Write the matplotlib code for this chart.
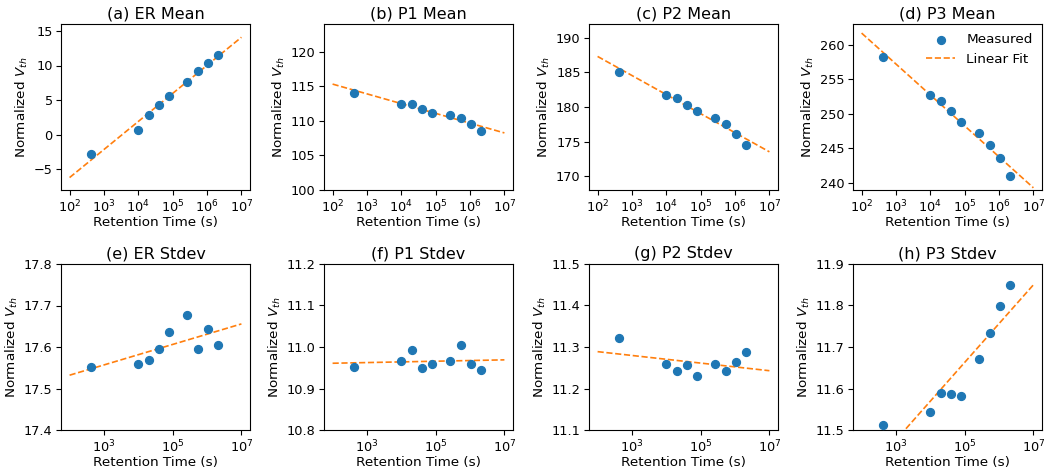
import matplotlib
matplotlib.use("Agg")
import matplotlib.pyplot as plt
import numpy as np

# retention times (s), same for every panel
retention_time = [430, 1.0e4, 2.0e4, 4.0e4, 7.8e4, 2.6e5, 5.4e5, 1.05e6, 2.1e6]

# mean values
er_mean = [-2.8, 0.72, 2.9, 4.3, 5.6, 7.55, 9.2, 10.4, 11.45]
p1_mean = [114.07, 112.48, 112.48, 111.66, 111.18, 110.8, 110.41, 109.6, 108.53]
p2_mean = [185.1, 181.7, 181.37, 180.3, 179.45, 178.35, 177.48, 176.09, 174.46]
p3_mean = [258.17, 252.67, 251.86, 250.36, 248.87, 247.23, 245.54, 243.57, 240.96]

# stdev values
er_std = [17.551, 17.558, 17.568, 17.594, 17.637, 17.677, 17.594, 17.644, 17.606]
p1_std = [10.951, 10.966, 10.992, 10.949, 10.958, 10.966, 11.004, 10.959, 10.945]
p2_std = [11.321, 11.260, 11.242, 11.256, 11.230, 11.258, 11.242, 11.265, 11.287]
p3_std = [11.513, 11.544, 11.588, 11.586, 11.582, 11.670, 11.734, 11.798, 11.850]

titles = ["(a) ER Mean", "(b) P1 Mean", "(c) P2 Mean", "(d) P3 Mean",
          "(e) ER Stdev", "(f) P1 Stdev", "(g) P2 Stdev", "(h) P3 Stdev"]
series = [er_mean, p1_mean, p2_mean, p3_mean, er_std, p1_std, p2_std, p3_std]
ylims = [(-8, 16), (100, 124), (168, 192), (239, 263),
         (17.4, 17.8), (10.8, 11.2), (11.1, 11.5), (11.5, 11.9)]
fit_range = [1e2, 1e7]

fig = plt.figure(figsize=(10.53, 4.74), dpi=100)
W, H = 1053.0, 474.0
lefts = [61, 324, 589, 853]
bottoms = [190, 430]
aw, ah = 189, 166

x = np.array(retention_time)
fx = np.array(fit_range)

for i in range(8):
    row, col = i // 4, i % 4
    ax = fig.add_axes([lefts[col] / W, (H - bottoms[row]) / H, aw / W, ah / H])
    y = np.array(series[i])
    slope, icpt = np.polyfit(np.log10(x), y, 1)
    ax.scatter(x, y, s=32, color="C0", zorder=3, label="Measured")
    ax.plot(fx, icpt + slope * np.log10(fx), "--", color="C1", lw=1.2, label="Linear Fit")
    ax.set_xscale("log")
    if row == 0:
        ax.set_xticks([1e2, 1e3, 1e4, 1e5, 1e6, 1e7])
    else:
        ax.set_xticks([1e3, 1e5, 1e7])
    ax.minorticks_off()
    ax.set_ylim(*ylims[i])
    ax.set_title(titles[i], fontsize=11.5, pad=4)
    ax.set_xlabel("Retention Time (s)", fontsize=9.7, labelpad=1)
    ax.set_ylabel("Normalized $V_{th}$", fontsize=9.7, labelpad=3)
    ax.tick_params(labelsize=9.3, pad=2.5)
    if i == 3:
        ax.legend(loc="upper right", frameon=False, fontsize=9.7, handlelength=2.2,
                  borderaxespad=0.3)

fig.savefig("out.png", dpi=100)
